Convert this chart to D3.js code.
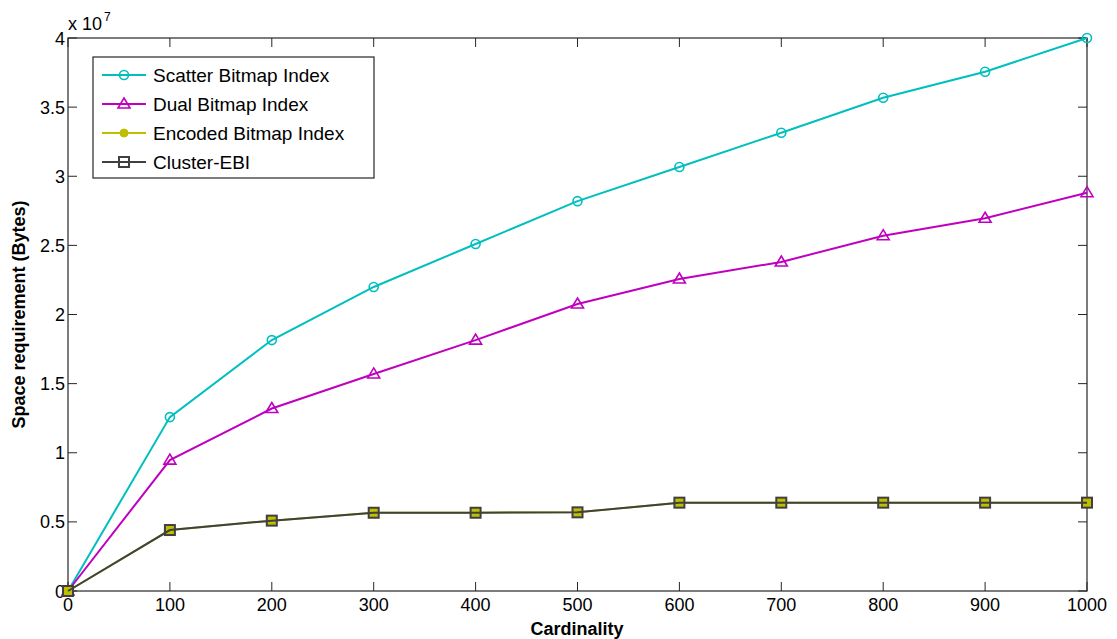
<!DOCTYPE html>
<html><head><meta charset="utf-8">
<script src="https://cdn.jsdelivr.net/npm/d3@7"></script>
<style>body{margin:0;background:#fff}svg{display:block}text{font-family:"Liberation Sans",Arial,sans-serif}</style>
</head><body><svg id="c" width="1117" height="639"></svg>
<script>
const cardinality = [0,100,200,300,400,500,600,700,800,900,1000];
const scatterBitmap = [0,1.258,1.815,2.199,2.51,2.82,3.067,3.315,3.568,3.756,4.0];
const dualBitmap = [0,0.947,1.32,1.57,1.815,2.076,2.257,2.38,2.57,2.696,2.881];
const encodedBitmap = [0,0.441,0.509,0.566,0.566,0.569,0.639,0.639,0.639,0.639,0.639];
const clusterEBI = [0,0.441,0.509,0.566,0.566,0.569,0.639,0.639,0.639,0.639,0.639];
const xTicks = [0,100,200,300,400,500,600,700,800,900,1000];
const yTicks = [0,0.5,1,1.5,2,2.5,3,3.5,4];
const seriesNames = ["Scatter Bitmap Index","Dual Bitmap Index","Encoded Bitmap Index","Cluster-EBI"];

const svg = d3.select("#c");
const L=68,R=1087,T=38,B=591;
const x = d3.scaleLinear().domain([0,1000]).range([L,R]);
const y = d3.scaleLinear().domain([0,4]).range([B,T]);

const series = [
 {name:seriesNames[0], vals:scatterBitmap, color:"#00BFBF", marker:"circle", w:2},
 {name:seriesNames[1], vals:dualBitmap, color:"#BF00BF", marker:"triangle", w:2},
 {name:seriesNames[2], vals:encodedBitmap, color:"#BFBF00", marker:"dot", w:2},
 {name:seriesNames[3], vals:clusterEBI, color:"#404040", marker:"square", w:2}
];

const tl=9;
const ax = svg.append("g");
ax.append("rect").attr("x",L).attr("y",T).attr("width",R-L).attr("height",B-T).attr("fill","none").attr("stroke","#262626").attr("stroke-width",1.2);
xTicks.forEach(t=>{
  ax.append("line").attr("x1",x(t)).attr("x2",x(t)).attr("y1",B).attr("y2",B-tl).attr("stroke","#262626");
  ax.append("line").attr("x1",x(t)).attr("x2",x(t)).attr("y1",T).attr("y2",T+tl).attr("stroke","#262626");
  ax.append("text").attr("x",x(t)).attr("y",611).attr("text-anchor","middle").attr("font-size",18).attr("fill","#000").text(t);
});
yTicks.forEach(t=>{
  ax.append("line").attr("x1",L).attr("x2",L+tl).attr("y1",y(t)).attr("y2",y(t)).attr("stroke","#262626");
  ax.append("line").attr("x1",R).attr("x2",R-tl).attr("y1",y(t)).attr("y2",y(t)).attr("stroke","#262626");
  ax.append("text").attr("x",L-3).attr("y",y(t)+6.5).attr("text-anchor","end").attr("font-size",18).attr("fill","#000").text(t);
});
const ex = ax.append("text").attr("x",68).attr("y",30).attr("font-size",18).attr("fill","#000");
ex.append("tspan").text("x 10");
ex.append("tspan").attr("font-size",12).attr("dy",-9).attr("dx",2).text("7");

svg.append("text").attr("x",577).attr("y",635).attr("text-anchor","middle").attr("font-size",18).attr("font-weight","bold").text("Cardinality");
svg.append("text").attr("transform",`translate(25,${(T+B)/2}) rotate(-90)`).attr("text-anchor","middle").attr("font-size",18).attr("font-weight","bold").text("Space requirement (Bytes)");

function marker(g,type,cx,cy,color){
  if(type==="circle") g.append("circle").attr("cx",cx).attr("cy",cy).attr("r",4.5).attr("fill","none").attr("stroke",color).attr("stroke-width",1.6);
  else if(type==="triangle") g.append("path").attr("d",`M${cx},${cy-6}L${cx+6},${cy+4}L${cx-6},${cy+4}Z`).attr("fill","none").attr("stroke",color).attr("stroke-width",1.6);
  else if(type==="dot") g.append("circle").attr("cx",cx).attr("cy",cy).attr("r",4).attr("fill",color).attr("stroke",color);
  else if(type==="square") g.append("rect").attr("x",cx-5).attr("y",cy-5).attr("width",10).attr("height",10).attr("fill","none").attr("stroke",color).attr("stroke-width",2);
}

const line = d3.line().x((d,i)=>x(cardinality[i])).y(d=>y(d));
series.forEach(s=>{
  const g = svg.append("g");
  g.append("path").datum(s.vals).attr("d",line).attr("fill","none").attr("stroke",s.color).attr("stroke-width",s.w);
  s.vals.forEach((v,i)=>{
    if(s.marker==="dot") g.append("rect").attr("x",x(cardinality[i])-5).attr("y",y(v)-5).attr("width",10).attr("height",10).attr("fill",s.color);
    else marker(g,s.marker,x(cardinality[i]),y(v),s.color);
  });
});

const lg = svg.append("g");
lg.append("rect").attr("x",93).attr("y",57).attr("width",281).attr("height",121).attr("fill","#fff").attr("stroke","#262626").attr("stroke-width",1.2);
series.forEach((s,i)=>{
  const yy = 75 + i*29;
  lg.append("line").attr("x1",102).attr("x2",146).attr("y1",yy).attr("y2",yy).attr("stroke",s.color).attr("stroke-width",s.w);
  marker(lg,s.marker,124,yy,s.color);
  lg.append("text").attr("x",153).attr("y",yy+7).attr("font-size",19).attr("fill","#000").text(s.name);
});
</script></body></html>
